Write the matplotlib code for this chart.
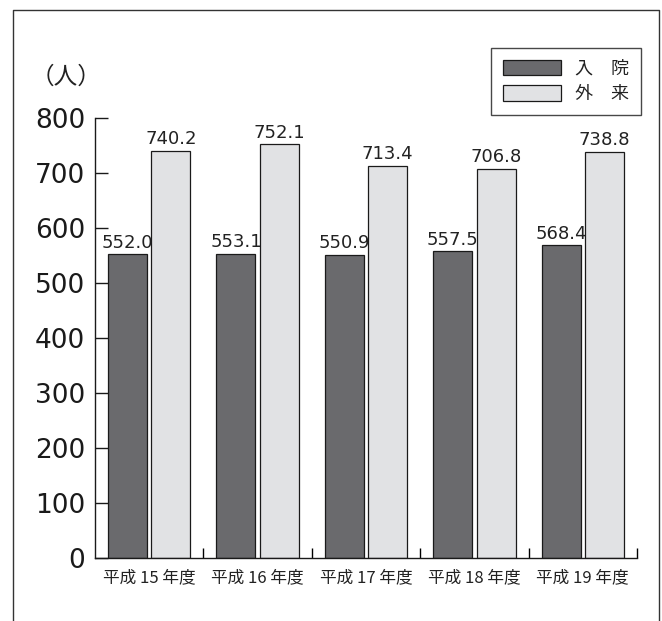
import matplotlib
matplotlib.use('Agg')
import matplotlib.pyplot as plt
import numpy as np
from matplotlib.lines import Line2D

# data
years = ['平成 15 年度', '平成 16 年度', '平成 17 年度', '平成 18 年度', '平成 19 年度']
inpatient = [552.0, 553.1, 550.9, 557.5, 568.4]   # 入院
outpatient = [740.2, 752.1, 713.4, 706.8, 738.8]  # 外来
yticks = [0, 100, 200, 300, 400, 500, 600, 700, 800]

CJK = ['Noto Sans CJK JP', 'DejaVu Sans']
W, H = 662, 621

fig = plt.figure(figsize=(W / 100, H / 100), dpi=100)
ax = fig.add_axes([95 / W, 1 - 558 / H, (637 - 95) / W, (558 - 118) / H])

x = np.arange(len(years)) + 0.5
bw = 0.36
b1 = ax.bar(x - 0.2, inpatient, bw, color='#6a6a6d', edgecolor='#1a1a1a',
            linewidth=0.9, label='入\u3000院')
b2 = ax.bar(x + 0.2, outpatient, bw, color='#e1e2e4', edgecolor='#1a1a1a',
            linewidth=0.9, label='外\u3000来')

for bars in (b1, b2):
    ax.bar_label(bars, fmt='%.1f', padding=2, fontsize=13, color='#222222')

ax.set_xlim(0, len(years))
ax.set_ylim(0, 800)

# axes styling
for s in ('top', 'right'):
    ax.spines[s].set_visible(False)
for s in ('left', 'bottom'):
    ax.spines[s].set_linewidth(1.0)
    ax.spines[s].set_color('#1a1a1a')

ax.set_yticks(yticks)
ax.tick_params(axis='y', direction='in', length=9, width=1.0, pad=7,
               labelsize=19, colors='#1a1a1a')
ax.set_xticks(np.arange(1, len(years) + 1))
ax.set_xticklabels([])
ax.tick_params(axis='x', which='major', direction='in', length=7, width=1.0)
ax.set_xticks(x, minor=True)
ax.set_xticklabels(years, minor=True, family=CJK, fontsize=12, color='#222222')
ax.tick_params(axis='x', which='minor', length=0, pad=8)

# unit label
fig.text(66 / W, 1 - 77 / H, '（人）', family=CJK, fontsize=17,
         ha='center', va='center', color='#222222')

# legend
leg = ax.legend(loc='upper right', bbox_to_anchor=(641 / W, 1 - 48 / H),
                bbox_transform=fig.transFigure, borderaxespad=0,
                prop={'family': CJK, 'size': 13}, fancybox=False,
                edgecolor='#1a1a1a', handlelength=3.2, handleheight=0.95,
                labelspacing=0.4, borderpad=0.65, handletextpad=0.8)
leg.get_frame().set_linewidth(1.0)
for t in leg.get_texts():
    t.set_color('#222222')

# outer frame (open at the bottom)
fx0, fx1, fy0 = 12.7 / W, 658.5 / W, 1 - 10 / H
fig.add_artist(Line2D([fx0, fx0, fx1, fx1], [0, fy0, fy0, 0],
                      transform=fig.transFigure, color='#333333', linewidth=1.0))

fig.savefig('out.png', dpi=100)
